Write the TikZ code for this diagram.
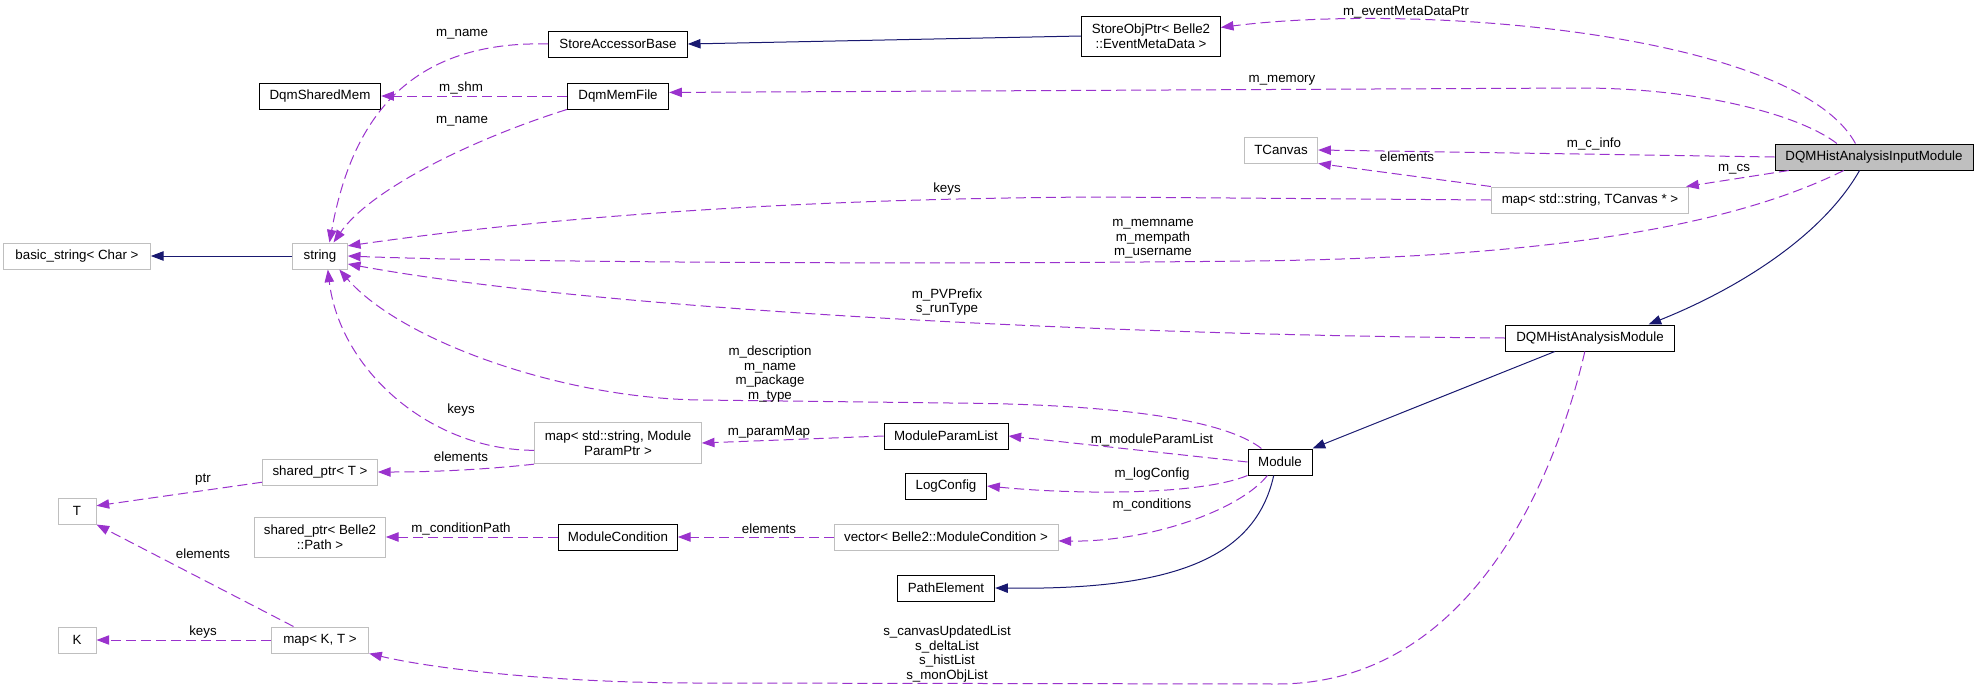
\documentclass[tikz,border=0pt]{standalone}
\usepackage{fontspec}
\setmainfont{Liberation Sans}
\usetikzlibrary{arrows.meta}
\definecolor{usecol}{HTML}{9A32CD}
\definecolor{inhcol}{HTML}{191970}
\definecolor{extcol}{HTML}{BFBFBF}
\tikzset{
USE/.style={draw=usecol,line width=0.75pt,dash pattern=on 7.5pt off 3.75pt,-{Triangle[length=9.5pt,width=7pt]}},
INH/.style={draw=inhcol,line width=0.75pt,-{Triangle[length=9.5pt,width=7pt]}},
CLS/.style={draw=black,line width=0.75pt,minimum height=19.5pt,inner sep=0pt,align=center,minimum width=#1},
EXT/.style={CLS=#1,draw=extcol},
TOP/.style={CLS=#1,fill=extcol},
LBL/.style={inner sep=0pt,align=center},
}
\begin{document}
\begin{tikzpicture}[x=0.75pt,y=-0.75pt,font=\fontsize{10}{11}\selectfont]
	\useasboundingbox (0,0) rectangle (1977,689);
	% classes
	\node[TOP=148.5pt] (in) at (1874,157) {DQMHistAnalysisInputModule};
	\node[CLS=104pt,minimum height=30pt] (sop) at (1151,36) {StoreObjPtr< Belle2\\::EventMetaData >};
	\node[CLS=104pt] (sab) at (618,44) {StoreAccessorBase};
	\node[CLS=76pt] (dmf) at (618,96) {DqmMemFile};
	\node[CLS=91pt] (dsm) at (320,96) {DqmSharedMem};
	\node[EXT=55pt] (tc) at (1281,150) {TCanvas};
	\node[EXT=148pt] (mtc) at (1590,200) {map< std::string, TCanvas * >};
	\node[EXT=110pt] (bs) at (77,256) {basic\_string< Char >};
	\node[EXT=41pt] (str) at (320,256) {string};
	\node[CLS=127pt] (dham) at (1590,338) {DQMHistAnalysisModule};
	\node[EXT=125pt,minimum height=31pt] (mp) at (618,443) {map< std::string, Module\\ParamPtr >};
	\node[CLS=93pt] (mpl) at (946,436) {ModuleParamList};
	\node[CLS=48pt] (md) at (1280,462) {Module};
	\node[EXT=86pt] (st) at (320,472) {shared\_ptr< T >};
	\node[EXT=28.5pt] (T) at (77,511) {T};
	\node[CLS=61pt] (lc) at (946,486) {LogConfig};
	\node[EXT=98pt,minimum height=30pt] (sp) at (320,537) {shared\_ptr< Belle2\\::Path >};
	\node[CLS=89pt] (mc) at (618,537) {ModuleCondition};
	\node[EXT=168pt] (vec) at (946,537) {vector< Belle2::ModuleCondition >};
	\node[CLS=73pt] (pe) at (946,588) {PathElement};
	\node[EXT=28.5pt] (K) at (77,640) {K};
	\node[EXT=73pt] (mkt) at (320,640) {map< K, T >};
	% edges
	\path[INH] (sop.west) -- (sab.east);
	\path[USE] (in.144) .. controls (1796,34) and (1422,2) .. (sop.7);
	\path[USE] (in.160) .. controls (1800,115) and (1700,88) .. (1580,88) -- (dmf.4);
	\path[USE] (in.west) -- (tc.east);
	\path[USE] (in.189) -- (mtc.8);
	\path[USE] (in.204) .. controls (1720,232) and (1520,258) .. (1250,261) .. controls (900,265) and (500,262) .. (str.east);
	\path[INH] (in.223) .. controls (1820,240) and (1730,292) .. (dham.13);
	\path[USE] (mtc.north west) -- (tc.south east);
	\path[USE] (mtc.west) -- (1100,197) .. controls (700,199) and (460,230) .. (str.20);
	\path[USE] (dham.west) .. controls (1100,335) and (600,310) .. (str.-16);
	\path[INH] (dham.201) -- (md.north east);
	\path[USE] (dham.249) .. controls (1555,480) and (1470,684) .. (1277,684) -- (700,683) .. controls (550,683) and (430,668) .. (mkt.south east);
	\path[USE] (md.144) .. controls (1225,420) and (1120,404) .. (950,403) -- (700,400) .. controls (560,398) and (400,340) .. (str.-35);
	\path[USE] (md.west) -- (mpl.east);
	\path[USE] (md.south west) .. controls (1200,495) and (1080,495) .. (lc.east);
	\path[USE] (md.227) .. controls (1240,510) and (1150,542) .. (vec.-2.5);
	\path[INH] (md.245) .. controls (1255,560) and (1170,590) .. (pe.east);
	\path[USE] (mpl.west) -- (mp.east);
	\path[USE] (vec.west) -- (mc.east);
	\path[USE] (mc.west) -- (sp.east);
	\path[USE] (mp.185) .. controls (430,450) and (340,370) .. (str.-60);
	\path[USE] (mp.south west) .. controls (480,470) and (430,472) .. (st.east);
	\path[USE] (st.190) -- (T.15);
	\path[USE] (mkt.153) -- (T.south east);
	\path[USE] (mkt.west) -- (K.east);
	\path[INH] (str.west) -- (bs.east);
	\path[USE] (sab.west) .. controls (400,40) and (350,130) .. (str.55);
	\path[USE] (dmf.west) -- (dsm.east);
	\path[USE] (dmf.south west) .. controls (470,140) and (370,190) .. (str.45);
	% edge labels
	\node[LBL] (l-evt) at (1406,12) {m\_eventMetaDataPtr};
	\node[LBL] (l-mem) at (1282,80) {m\_memory};
	\node[LBL] (l-cinfo) at (1594,144) {m\_c\_info};
	\node[LBL] (l-tcel) at (1407,157) {elements};
	\node[LBL] (l-cs) at (1734,169) {m\_cs};
	\node[LBL] (l-tckeys) at (947,189) {keys};
	\node[LBL] (l-memname) at (1153,239) {m\_memname\\m\_mempath\\m\_username};
	\node[LBL] (l-pv) at (947,302) {m\_PVPrefix\\s\_runType};
	\node[LBL] (l-descr) at (770,374) {m\_description\\m\_name\\m\_package\\m\_type};
	\node[LBL] (l-pmap) at (769,432) {m\_paramMap};
	\node[LBL] (l-mpl) at (1152,440) {m\_moduleParamList};
	\node[LBL] (l-log) at (1152,474) {m\_logConfig};
	\node[LBL] (l-cond) at (1152,505) {m\_conditions};
	\node[LBL] (l-vecel) at (769,529) {elements};
	\node[LBL] (l-cpath) at (461,529) {m\_conditionPath};
	\node[LBL] (l-hist) at (947,654) {s\_canvasUpdatedList\\s\_deltaList\\s\_histList\\s\_monObjList};
	\node[LBL] (l-sabname) at (462,34) {m\_name};
	\node[LBL] (l-shm) at (461,88) {m\_shm};
	\node[LBL] (l-dmfname) at (462,121) {m\_name};
	\node[LBL] (l-mpkeys) at (461,410) {keys};
	\node[LBL] (l-mpel) at (461,457) {elements};
	\node[LBL] (l-ptr) at (203,480) {ptr};
	\node[LBL] (l-ktel) at (203,554) {elements};
	\node[LBL] (l-ktkeys) at (203,632) {keys};
\end{tikzpicture}
\end{document}
